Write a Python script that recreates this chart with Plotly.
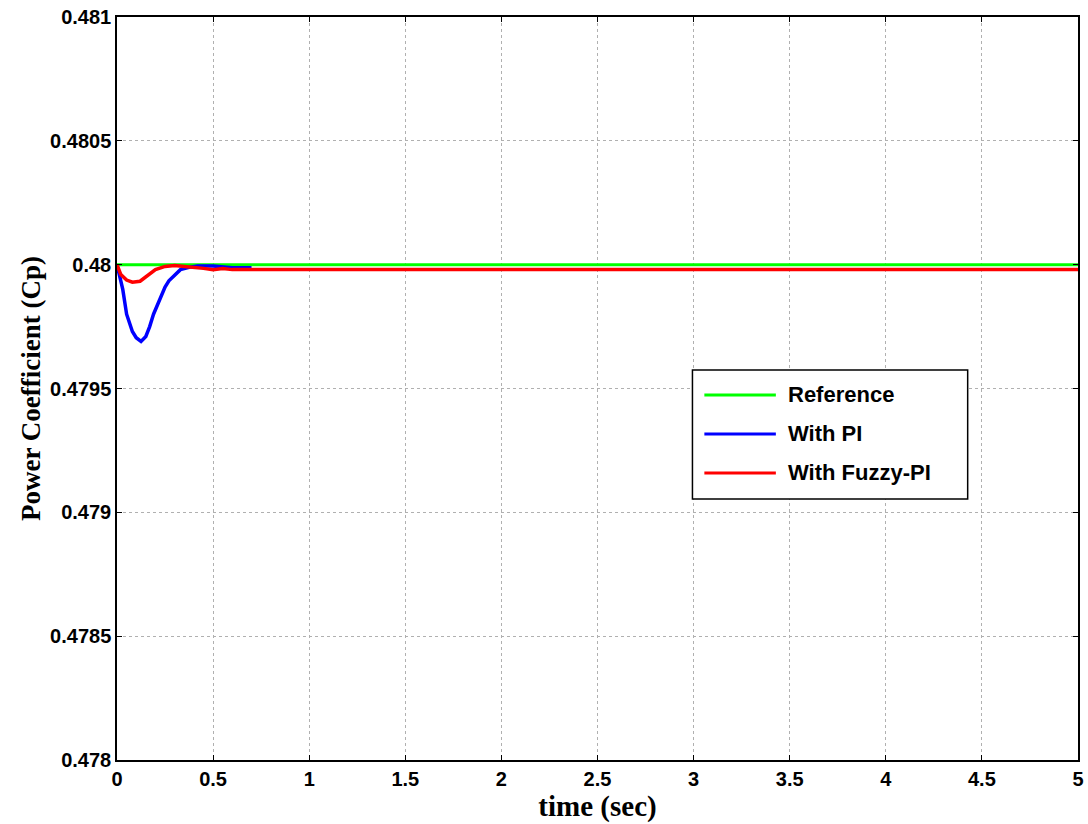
import plotly.graph_objects as go

ref_t = [0, 5]
ref_v = [0.48, 0.48]

pi_t = [0, 0.01, 0.03, 0.05, 0.08, 0.10, 0.125, 0.15, 0.17, 0.19, 0.22, 0.25, 0.27, 0.30, 0.33, 0.38, 0.42, 0.50, 0.55, 0.60, 0.70]
pi_v = [0.48, 0.47997, 0.47990, 0.47980, 0.47973, 0.479705, 0.47969, 0.47971, 0.47975, 0.47980, 0.479855, 0.47991, 0.479935, 0.47996, 0.47998, 0.47999, 0.479995, 0.479995, 0.47999, 0.479988, 0.479988]

fz_t = [0, 0.02, 0.05, 0.08, 0.12, 0.16, 0.20, 0.25, 0.30, 0.35, 0.40, 0.45, 0.50, 0.55, 0.60, 0.65, 5]
fz_v = [0.48, 0.47996, 0.479938, 0.479929, 0.479933, 0.479955, 0.47998, 0.479993, 0.479997, 0.479993, 0.47999, 0.479985, 0.47998, 0.479984, 0.47998, 0.47998, 0.47998]

series_names = ["Reference", "With PI", "With Fuzzy-PI"]
series_colors = ["#00ff00", "#0000ff", "#ff0000"]

y_ticks = [0.478, 0.4785, 0.479, 0.4795, 0.48, 0.4805, 0.481]
y_ticktext = ["0.478", "0.4785", "0.479", "0.4795", "0.48", "0.4805", "0.481"]
x_ticks = [0, 0.5, 1, 1.5, 2, 2.5, 3, 3.5, 4, 4.5, 5]
x_ticktext = ["0", "0.5", "1", "1.5", "2", "2.5", "3", "3.5", "4", "4.5", "5"]

fig = go.Figure()
widths = [3, 3.5, 3.5]
for (t, v), name, color, w in zip([(ref_t, ref_v), (pi_t, pi_v), (fz_t, fz_v)], series_names, series_colors, widths):
    fig.add_trace(go.Scatter(x=t, y=v, mode="lines", name=name,
                             line=dict(color=color, width=w), showlegend=False))

axis_common = dict(
    showline=True, linecolor="black", linewidth=1.5, mirror="ticks",
    ticks="inside", ticklen=5, tickcolor="black",
    showgrid=True, gridcolor="#b0b0b0", griddash="dot", gridwidth=1,
    zeroline=False,
    tickfont=dict(family="Liberation Sans, Arial", size=20, color="black", weight="bold"),
)

# Manual legend box (paper coordinates)
lx0, lx1, ly0, ly1 = 0.5988, 0.8852, 0.3513, 0.5249
row_y = [0.4913, 0.4388, 0.3863]
line_x0, line_x1, text_x = 0.6112, 0.6856, 0.696
shapes = [dict(type="rect", xref="paper", yref="paper", x0=lx0, x1=lx1, y0=ly0, y1=ly1,
               line=dict(color="black", width=1.5), fillcolor="white", layer="above")]
annotations = []
for name, color, yy in zip(series_names, series_colors, row_y):
    shapes.append(dict(type="line", xref="paper", yref="paper", x0=line_x0, x1=line_x1, y0=yy, y1=yy,
                       line=dict(color=color, width=3), layer="above"))
    annotations.append(dict(xref="paper", yref="paper", x=text_x, y=yy, xanchor="left", yanchor="middle",
                            text="<b>" + name + "</b>", showarrow=False,
                            font=dict(family="Liberation Sans, Arial", size=22, color="black")))

fig.update_layout(
    width=1088, height=824,
    margin=dict(l=117, r=4, t=17, b=64),
    paper_bgcolor="white", plot_bgcolor="white",
    xaxis=dict(range=[0, 5], tickvals=x_ticks, ticktext=x_ticktext,
               title=dict(text="<b>time (sec)</b>", standoff=0,
                          font=dict(family="Liberation Serif, Times New Roman", size=29, color="black")),
               **axis_common),
    yaxis=dict(range=[0.478, 0.481], tickvals=y_ticks, ticktext=y_ticktext,
               title=dict(text="<b>Power Coefficient (Cp)</b>", standoff=2,
                          font=dict(family="Liberation Serif, Times New Roman", size=27, color="black")),
               **axis_common),
    shapes=shapes,
    annotations=annotations,
    showlegend=False,
)

fig.write_html("out.html")
